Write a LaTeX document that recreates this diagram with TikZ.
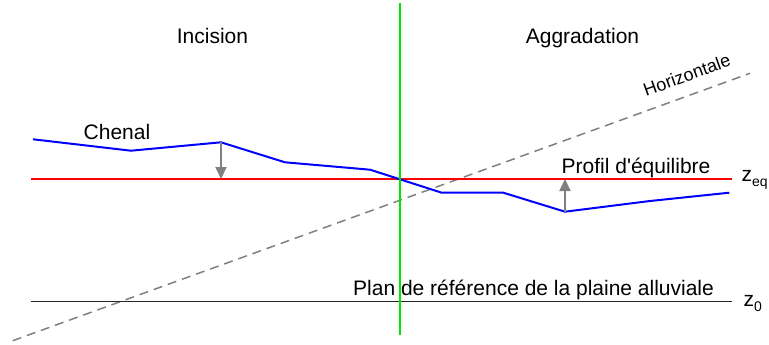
\documentclass[tikz,border=0pt]{standalone}
\usepackage{fontspec}
\setmainfont{Liberation Sans}
\usetikzlibrary{arrows.meta}
\definecolor{chblue}{RGB}{0,0,255}
\definecolor{eqred}{RGB}{255,0,0}
\definecolor{vgreen}{RGB}{0,230,0}
\definecolor{dgray}{RGB}{128,128,128}
\tikzset{
  lbl/.style={inner sep=0pt, anchor=base west, font=\fontsize{21}{24}\selectfont},
  lblc/.style={inner sep=0pt, anchor=base, font=\fontsize{21}{24}\selectfont},
  chan/.style={draw=chblue, line width=2pt, line join=miter},
  eqline/.style={draw=eqred, line width=2pt},
  refline/.style={draw=black!85, line width=1.8pt},
  vline/.style={draw=vgreen, line width=2.2pt},
  horiz/.style={draw=dgray, line width=1.5pt, dash pattern=on 9pt off 6pt},
  garrow/.style={draw=dgray, line width=2pt, -{Triangle[length=12pt,width=11pt]}},
}
\begin{document}
\begin{tikzpicture}[x=1pt,y=-1pt]
\useasboundingbox (0,0) rectangle (769,345);
% coordinates
\coordinate (h1) at (12.7,340.7);
\coordinate (h2) at (750,73.3);
\coordinate (g1) at (400,2.7);
\coordinate (g2) at (400,335);
\coordinate (r1) at (31,179);
\coordinate (r2) at (732,179);
\coordinate (b1) at (31,301.5);
\coordinate (b2) at (732,301.5);
\coordinate (c1) at (33,139.3);
\coordinate (c2) at (131,150.7);
\coordinate (c3) at (221,142.3);
\coordinate (c4) at (285,162.3);
\coordinate (c5) at (370,169.7);
\coordinate (c6) at (400,179.3);
\coordinate (c7) at (441.7,192.7);
\coordinate (c8) at (503.3,192.7);
\coordinate (c9) at (565,211.7);
\coordinate (c10) at (650,201);
\coordinate (c11) at (729.3,192.7);
\coordinate (a1e) at (221,179);
\coordinate (a2e) at (565,179);
% lines
\draw[horiz] (h1) -- (h2);
\draw[refline] (b1) -- (b2);
\draw[eqline] (r1) -- (r2);
\draw[chan] (c1) -- (c2) -- (c3) -- (c4) -- (c5) -- (c6) -- (c7) -- (c8) -- (c9) -- (c10) -- (c11);
\draw[garrow] (c3) -- (a1e);
\draw[garrow] (c9) -- (a2e);
\draw[vline] (g1) -- (g2);
% labels
\node[lblc] (inc) at (212.5,43.3) {Incision};
\node[lblc] (agg) at (582.5,43.3) {Aggradation};
\node[lbl] (chen) at (83.5,139.3) {Chenal};
\node[lbl] (prof) at (561.5,173.3) {Profil d\textquotesingle équilibre};
\node[lbl] (plan) at (353,295) {Plan de référence de la plaine alluviale};
\node[lbl] (zeq) at (741.5,181.7) {z\raisebox{-5pt}{\fontsize{14}{14}\selectfont eq}};
\node[lbl] (z0) at (743.5,306.7) {z\raisebox{-5pt}{\fontsize{14}{14}\selectfont 0}};
\node[inner sep=0pt, anchor=base, rotate=19.9, font=\fontsize{18}{20}\selectfont] (hz) at (689,81) {Horizontale};
\end{tikzpicture}
\end{document}
